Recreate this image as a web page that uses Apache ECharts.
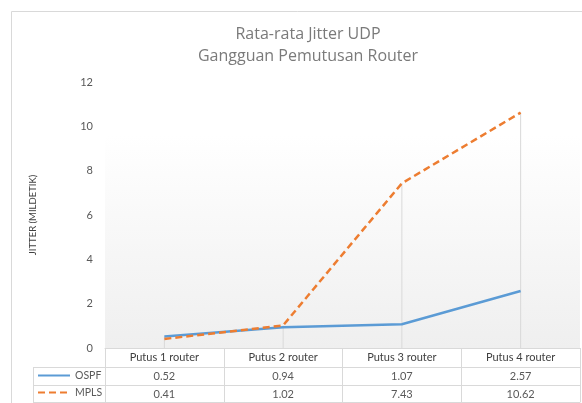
<!DOCTYPE html>
<html>
<meta charset="UTF-8">
<title>jitter-udp</title>
<style type="text/css">
    html,
    body {
        margin: 0px;
        height: 100%;
        width: 100%;
        background: #fff;
    }

    #chart {
        width: 582px;
        height: 403px;
    }
</style>
<script src="https://cdn.jsdelivr.net/npm/echarts@6/dist/echarts.min.js"></script>

<body>
    <div id="chart"></div>
    <script>

        const categories = ['Putus 1 router', 'Putus 2 router', 'Putus 3 router', 'Putus 4 router'];
        const ospf = [0.52, 0.94, 1.07, 2.57];
        const mpls = [0.41, 1.02, 7.43, 10.62];
        const yTicks = [0, 2, 4, 6, 8, 10, 12];

        // drop lines go from the higher point down to the axis
        const dropTop = categories.map((c, i) => Math.max(ospf[i], mpls[i]));

        const grey = '#d9d9d9';
        const font = 'Lato';

        const chart = echarts.init(document.querySelector('#chart'));

        // extra category axes used as the rows of the data table
        function tableAxis(values, offset, showLabel) {
            return {
                type: 'category',
                gridIndex: 0,
                position: 'bottom',
                offset: offset,
                data: values.map(v => showLabel ? v.toFixed(2) : ''),
                axisLine: { show: true, lineStyle: { color: grey, width: 1 } },
                axisTick: { show: false },
                axisLabel: {
                    show: showLabel,
                    interval: 0,
                    margin: 4,
                    fontFamily: font,
                    fontSize: 11,
                    color: '#595959'
                }
            };
        }

        const options = {
            animation: false,
            textStyle: { fontFamily: font },
            title: {
                text: 'Rata-rata Jitter UDP\nGangguan Pemutusan Router',
                left: 303,
                top: 18,
                textAlign: 'center',
                textStyle: {
                    fontFamily: 'Open Sans',
                    fontSize: 16,
                    fontWeight: 'normal',
                    color: '#7a7a7a',
                    lineHeight: 22
                }
            },
            legend: {
                data: ['OSPF', 'MPLS'],
                orient: 'vertical',
                left: 37,
                top: 370,
                padding: 0,
                itemGap: 6,
                itemWidth: 32,
                itemHeight: 12,
                itemStyle: { opacity: 0 },
                textStyle: { fontFamily: font, fontSize: 10.5, color: '#595959' }
            },
            grid: {
                left: 105,
                right: 2,
                top: 82,
                bottom: 55,
                show: true,
                borderWidth: 0,
                backgroundColor: new echarts.graphic.LinearGradient(0, 0, 0, 1, [
                    { offset: 0, color: '#ffffff' },
                    { offset: 0.2, color: '#ffffff' },
                    { offset: 1, color: '#efefef' }
                ])
            },
            xAxis: [
                {
                    type: 'category',
                    data: categories,
                    axisLine: { show: true, lineStyle: { color: grey, width: 1 } },
                    axisTick: { show: true, interval: 0, length: 54, lineStyle: { color: grey } },
                    axisLabel: {
                        interval: 0,
                        margin: 4,
                        fontFamily: font,
                        fontSize: 11,
                        color: '#404040'
                    }
                },
                tableAxis(ospf, 19, true),
                tableAxis(mpls, 37, true),
                tableAxis(ospf, 54, false)
            ],
            yAxis: {
                type: 'value',
                min: yTicks[0],
                max: yTicks[yTicks.length - 1],
                interval: 2,
                name: 'JITTER (MILDETIK)',
                nameLocation: 'middle',
                nameRotate: 90,
                nameGap: 67,
                nameTextStyle: { fontFamily: font, fontSize: 9.5, color: '#404040' },
                axisLine: { show: false },
                axisTick: { show: false },
                splitLine: { show: false },
                axisLabel: { margin: 12, fontFamily: font, fontSize: 11, color: '#595959' }
            },
            series: [
                {
                    name: 'drop',
                    type: 'bar',
                    barWidth: 1,
                    data: dropTop,
                    itemStyle: { color: grey },
                    silent: true,
                    z: 1
                },
                {
                    name: 'OSPF',
                    type: 'line',
                    data: ospf,
                    symbol: 'none',
                    lineStyle: { color: '#5B9BD5', width: 2.5 },
                    itemStyle: { color: '#5B9BD5' },
                    z: 3
                },
                {
                    name: 'MPLS',
                    type: 'line',
                    data: mpls,
                    symbol: 'none',
                    lineStyle: { color: '#ED7D31', width: 2.5, type: [7, 4] },
                    itemStyle: { color: '#ED7D31' },
                    z: 4
                }
            ],
            graphic: [
                {
                    type: 'rect',
                    shape: { x: 11.5, y: 11.5, width: 700, height: 600 },
                    style: { fill: 'none', stroke: grey, lineWidth: 1 },
                    silent: true
                },
                { type: 'line', shape: { x1: 33, y1: 367.5, x2: 105, y2: 367.5 }, style: { stroke: grey } },
                { type: 'line', shape: { x1: 33, y1: 385.5, x2: 105, y2: 385.5 }, style: { stroke: grey } },
                { type: 'line', shape: { x1: 33, y1: 402.5, x2: 105, y2: 402.5 }, style: { stroke: grey } },
                { type: 'line', shape: { x1: 33.5, y1: 367, x2: 33.5, y2: 403 }, style: { stroke: grey } }
            ]
        };
        chart.setOption(options);

    </script>
</body>

</html>
